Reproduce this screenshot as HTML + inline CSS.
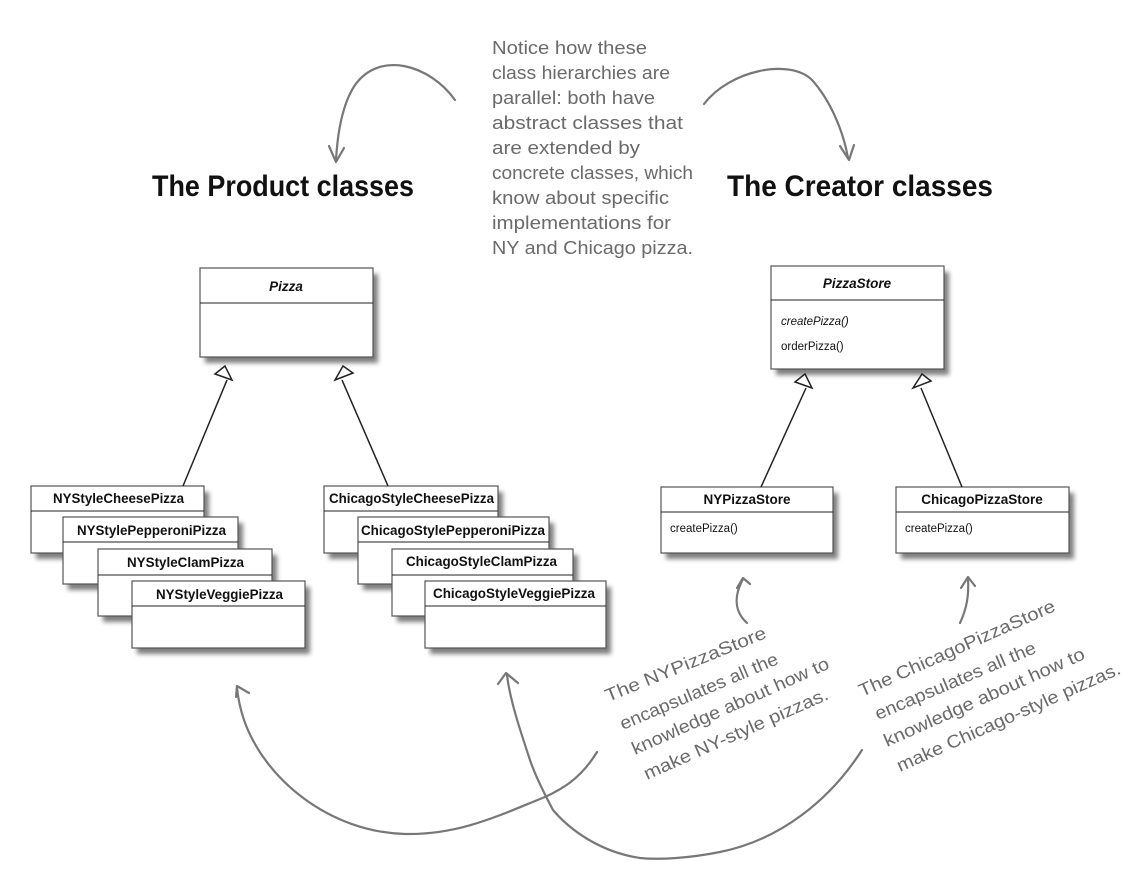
<!DOCTYPE html>
<html><head><meta charset="utf-8"><style>
html,body{margin:0;padding:0;background:#fff;}
svg{display:block;}
.cls{font-family:"Liberation Sans",Arial,sans-serif;font-weight:bold;font-size:13.5px;fill:#111;}
.m{font-family:"Liberation Sans",Arial,sans-serif;font-size:11.5px;fill:#111;}
.hw{font-family:"Liberation Sans",sans-serif;font-size:18px;fill:#6a6a6a;}
.hd{font-family:"Liberation Sans",sans-serif;font-weight:bold;font-size:30px;fill:#111;}
.bx{fill:#fff;stroke:#555;stroke-width:1.2;}
.ln{stroke:#222;stroke-width:1;}
.cv{fill:none;stroke:#777;stroke-width:2.2;stroke-linecap:round;stroke-linejoin:round;}
</style></head><body>
<svg width="1145" height="891" viewBox="0 0 1145 891" xmlns="http://www.w3.org/2000/svg">
<defs>
<filter id="sh" x="-10%" y="-10%" width="130%" height="140%"><feGaussianBlur stdDeviation="2.5"/></filter>
</defs>

<!-- headings -->
<text class="hd" x="152" y="196" textLength="262" lengthAdjust="spacingAndGlyphs">The Product classes</text>
<text class="hd" x="727" y="196" textLength="266" lengthAdjust="spacingAndGlyphs">The Creator classes</text>

<!-- notice text -->
<g class="hw">
<text x="492" y="54" textLength="155" lengthAdjust="spacingAndGlyphs">Notice how these</text>
<text x="492" y="79" textLength="178" lengthAdjust="spacingAndGlyphs">class hierarchies are</text>
<text x="492" y="104" textLength="163" lengthAdjust="spacingAndGlyphs">parallel: both have</text>
<text x="492" y="129" textLength="191" lengthAdjust="spacingAndGlyphs">abstract classes that</text>
<text x="492" y="154" textLength="148" lengthAdjust="spacingAndGlyphs">are extended by</text>
<text x="492" y="179" textLength="201" lengthAdjust="spacingAndGlyphs">concrete classes, which</text>
<text x="492" y="204" textLength="177" lengthAdjust="spacingAndGlyphs">know about specific</text>
<text x="492" y="229" textLength="179" lengthAdjust="spacingAndGlyphs">implementations for</text>
<text x="492" y="254" textLength="201" lengthAdjust="spacingAndGlyphs">NY and Chicago pizza.</text>
</g>

<!-- top curves -->
<path class="cv" d="M455,100 C430,65 380,50 355,85 C345,100 338,125 336,160"/>
<path class="cv" d="M329,146 L336,162 L344,148"/>
<path class="cv" d="M704,104 C730,70 790,58 812,80 C830,100 843,130 848,158"/>
<path class="cv" d="M840,146 L849,160 L854,145"/>

<!-- shadows -->
<g fill="#555" filter="url(#sh)" opacity="0.75">
<rect x="205" y="274" width="173" height="89"/>
<rect x="776" y="272" width="173" height="103"/>
<rect x="666" y="493" width="172" height="66"/>
<rect x="901" y="493" width="173" height="66"/>
<rect x="36" y="492" width="173" height="67"/>
<rect x="68" y="523" width="175" height="67"/>
<rect x="103" y="555" width="174" height="67"/>
<rect x="137" y="587" width="173" height="67"/>
<rect x="329" y="492" width="174" height="67"/>
<rect x="363" y="523" width="191" height="67"/>
<rect x="397" y="555" width="181" height="67"/>
<rect x="430" y="587" width="181" height="67"/>
</g>

<!-- Pizza -->
<rect class="bx" x="200" y="268" width="173" height="89"/>
<line class="ln" x1="200" y1="303" x2="373" y2="303"/>
<text class="cls" x="286" y="291" text-anchor="middle" font-style="italic">Pizza</text>

<!-- PizzaStore -->
<rect class="bx" x="771" y="266" width="173" height="103"/>
<line class="ln" x1="771" y1="300" x2="944" y2="300"/>
<text class="cls" x="857" y="288" text-anchor="middle" font-style="italic">PizzaStore</text>
<text class="m" x="781" y="325" font-style="italic">createPizza()</text>
<text class="m" x="781" y="350">orderPizza()</text>

<!-- NYPizzaStore -->
<rect class="bx" x="661" y="487" width="172" height="66"/>
<line class="ln" x1="661" y1="512" x2="833" y2="512"/>
<text class="cls" x="747" y="504" text-anchor="middle">NYPizzaStore</text>
<text class="m" x="670" y="532">createPizza()</text>

<!-- ChicagoPizzaStore -->
<rect class="bx" x="896" y="487" width="173" height="66"/>
<line class="ln" x1="896" y1="512" x2="1069" y2="512"/>
<text class="cls" x="982" y="504" text-anchor="middle">ChicagoPizzaStore</text>
<text class="m" x="905" y="532">createPizza()</text>

<!-- NY pizzas -->
<rect class="bx" x="31" y="486" width="173" height="67"/><line class="ln" x1="31" y1="511" x2="204" y2="511"/>
<text class="cls" x="53" y="503" textLength="131" lengthAdjust="spacingAndGlyphs">NYStyleCheesePizza</text>
<rect class="bx" x="63" y="517" width="175" height="67"/><line class="ln" x1="63" y1="542" x2="238" y2="542"/>
<text class="cls" x="77" y="535" textLength="149" lengthAdjust="spacingAndGlyphs">NYStylePepperoniPizza</text>
<rect class="bx" x="98" y="549" width="174" height="67"/><line class="ln" x1="98" y1="575" x2="272" y2="575"/>
<text class="cls" x="127" y="567" textLength="117" lengthAdjust="spacingAndGlyphs">NYStyleClamPizza</text>
<rect class="bx" x="132" y="581" width="173" height="67"/><line class="ln" x1="132" y1="606" x2="305" y2="606"/>
<text class="cls" x="156" y="599" textLength="127" lengthAdjust="spacingAndGlyphs">NYStyleVeggiePizza</text>

<!-- Chicago pizzas -->
<rect class="bx" x="324" y="486" width="174" height="67"/><line class="ln" x1="324" y1="511" x2="498" y2="511"/>
<text class="cls" x="329" y="503" textLength="165" lengthAdjust="spacingAndGlyphs">ChicagoStyleCheesePizza</text>
<rect class="bx" x="358" y="517" width="191" height="67"/><line class="ln" x1="358" y1="542" x2="549" y2="542"/>
<text class="cls" x="361" y="535" textLength="184" lengthAdjust="spacingAndGlyphs">ChicagoStylePepperoniPizza</text>
<rect class="bx" x="392" y="549" width="181" height="67"/><line class="ln" x1="392" y1="575" x2="573" y2="575"/>
<text class="cls" x="406" y="566" textLength="151" lengthAdjust="spacingAndGlyphs">ChicagoStyleClamPizza</text>
<rect class="bx" x="425" y="581" width="181" height="67"/><line class="ln" x1="425" y1="606" x2="606" y2="606"/>
<text class="cls" x="433" y="598" textLength="162" lengthAdjust="spacingAndGlyphs">ChicagoStyleVeggiePizza</text>

<!-- inheritance lines -->
<g stroke="#222" stroke-width="1.5" fill="#fff">
<line x1="183" y1="486" x2="227" y2="380"/>
<polygon points="225,366 215,374 232,380"/>
<line x1="388" y1="486" x2="342" y2="380"/>
<polygon points="343,366 335,380 353,373"/>
<line x1="761" y1="487" x2="806" y2="388"/>
<polygon points="805,374 795,382 812,388"/>
<line x1="962" y1="487" x2="921" y2="388"/>
<polygon points="922,374 913,388 931,381"/>
</g>

<!-- small arrows up -->
<path class="cv" d="M747,623 C735,612 733,598 743,579"/>
<path class="cv" d="M737,588 L743,578 L750,584"/>
<path class="cv" d="M960,623 C967,608 969,595 968,578"/>
<path class="cv" d="M961,588 L968,577 L975,586"/>

<!-- big bottom curves -->
<path class="cv" d="M597,752 C580,780 560,790 545,797 C500,815 460,835 405,834 C330,832 265,780 244,720 C240,708 238,698 237,688"/>
<path class="cv" d="M236,697 L237,686 L249,693"/>
<path class="cv" d="M862,750 C830,800 780,840 720,852 C690,858 660,860 640,858 C600,852 570,830 553,810 C545,795 535,775 530,760 C520,730 510,700 507,675"/>
<path class="cv" d="M498,684 L506,673 L518,683"/>

<!-- annotations -->
<g class="hw" font-size="19">
<text transform="translate(608,702) rotate(-22)" textLength="172" lengthAdjust="spacingAndGlyphs">The NYPizzaStore</text>
<text transform="translate(623,730) rotate(-23)" textLength="170" lengthAdjust="spacingAndGlyphs">encapsulates all the</text>
<text transform="translate(635,755) rotate(-24)" textLength="214" lengthAdjust="spacingAndGlyphs">knowledge about how to</text>
<text transform="translate(647,780) rotate(-24)" textLength="200" lengthAdjust="spacingAndGlyphs">make NY-style pizzas.</text>
<text transform="translate(862,697) rotate(-24)" textLength="213" lengthAdjust="spacingAndGlyphs">The ChicagoPizzaStore</text>
<text transform="translate(878,720) rotate(-23)" textLength="173" lengthAdjust="spacingAndGlyphs">encapsulates all the</text>
<text transform="translate(887,747) rotate(-24)" textLength="218" lengthAdjust="spacingAndGlyphs">knowledge about how to</text>
<text transform="translate(900,772) rotate(-24)" textLength="243" lengthAdjust="spacingAndGlyphs">make Chicago-style pizzas.</text>
</g>
</svg>
</body></html>
